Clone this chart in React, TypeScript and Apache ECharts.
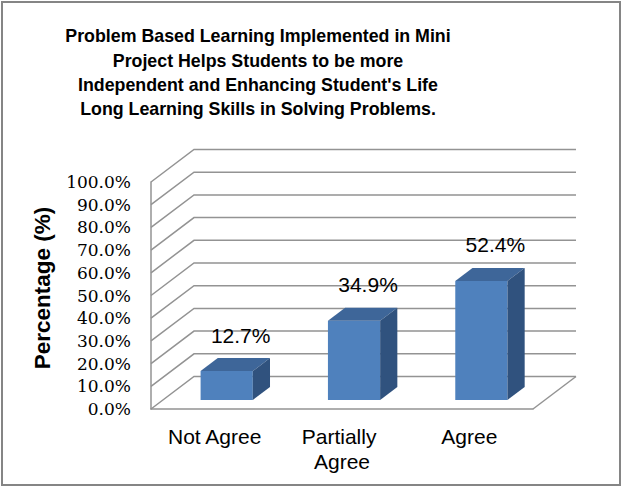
import React, { useEffect, useRef } from "react";
import * as echarts from "echarts";

const titleLines = [
  "Problem Based Learning Implemented in Mini",
  "Project Helps Students to be more",
  "Independent and Enhancing Student's Life",
  "Long Learning Skills in Solving Problems.",
];
const categories = ["Not Agree", "Partially Agree", "Agree"];
const values = [12.7, 34.9, 52.4];
const yTicks = [0, 10, 20, 30, 40, 50, 60, 70, 80, 90, 100];
const yAxisName = "Percentage (%)";

const DX = 43;
const DY = -32.5;
const F0 = 0.28;
const DEPTH = 0.4;
const GRID_COLOR = "#939393";

export default function App() {
  const ref = useRef<HTMLDivElement>(null);
  useEffect(() => {
    if (!ref.current) return;
    const chart = echarts.init(ref.current, null, { renderer: "svg" });
    const option: any = {
      animation: false,
      backgroundColor: "#ffffff",
      title: {
        text: titleLines.join("\n"),
        left: 253,
        top: 19,
        textAlign: "center",
        textStyle: {
          fontFamily: "Liberation Sans",
          fontWeight: "bold",
          fontSize: 17.8,
          lineHeight: 24.4,
          color: "#000",
        },
      },
      grid: { left: 151, right: 89, top: 182, bottom: 78 },
      xAxis: {
        type: "category",
        data: categories,
        axisLine: { show: true, lineStyle: { color: GRID_COLOR, width: 1.5 } },
        axisTick: { show: false },
        splitLine: { show: false },
        axisLabel: {
          interval: 0,
          margin: 15,
          width: 118,
          overflow: "break",
          lineHeight: 25,
          fontFamily: "Liberation Sans",
          fontSize: 21,
          color: "#000",
        },
      },
      yAxis: {
        type: "value",
        min: 0,
        max: 100,
        interval: 10,
        axisLine: { show: true, lineStyle: { color: GRID_COLOR, width: 1.5 } },
        axisTick: { show: false },
        splitLine: { show: false },
        axisLabel: {
          margin: 20,
          formatter: (v: number) => v.toFixed(1) + "%",
          fontFamily: "DejaVu Serif",
          fontSize: 17,
          color: "#000",
        },
      },
      graphic: [
        {
          type: "rect",
          shape: { x: 2, y: 2, width: 618, height: 483 },
          style: { fill: "none", stroke: "#858585", lineWidth: 2 },
          silent: true,
        },
        {
          type: "text",
          x: 42,
          y: 288,
          rotation: Math.PI / 2,
          silent: true,
          style: {
            text: yAxisName,
            align: "center",
            verticalAlign: "middle",
            fontFamily: "Liberation Sans",
            fontWeight: "bold",
            fontSize: 22.5,
            fill: "#000",
          },
        },
      ],
      series: [
        {
          type: "custom",
          clip: false,
          silent: true,
          data: yTicks.map((t) => [0, t]),
          renderItem: (params: any, api: any) => {
            const v = api.value(1);
            const cs = params.coordSys;
            const y = api.coord([0, v])[1];
            const xl = cs.x;
            const xr = cs.x + cs.width;
            const children: any[] = [
              {
                type: "polyline",
                shape: {
                  points: [
                    [xl, y],
                    [xl + DX, y + DY],
                    [xr + DX, y + DY],
                  ],
                },
                style: { stroke: GRID_COLOR, lineWidth: 1.5, fill: "none" },
              },
            ];
            if (v === 0) {
              children.push({
                type: "line",
                shape: { x1: xr, y1: y, x2: xr + DX, y2: y + DY },
                style: { stroke: GRID_COLOR, lineWidth: 1.5 },
              });
            }
            return { type: "group", children };
          },
        },
        {
          type: "custom",
          clip: false,
          data: values.map((v, i) => [i, v]),
          renderItem: (params: any, api: any) => {
            const i = api.value(0);
            const v = api.value(1);
            const top = api.coord([i, v]);
            const base = api.coord([i, 0]);
            const band = api.size([1, 0])[0];
            const w = band * 0.41;
            const ox = F0 * DX;
            const oy = F0 * DY;
            const x0 = top[0] - w / 2 + ox;
            const x1 = x0 + w;
            const yT = top[1] + oy;
            const yB = base[1] + oy;
            const dx = DEPTH * DX;
            const dy = DEPTH * DY;
            return {
              type: "group",
              children: [
                {
                  type: "polygon",
                  shape: { points: [[x0, yT], [x1, yT], [x1, yB], [x0, yB]] },
                  style: { fill: "#4f81bd" },
                },
                {
                  type: "polygon",
                  shape: {
                    points: [[x0, yT], [x1, yT], [x1 + dx, yT + dy], [x0 + dx, yT + dy]],
                  },
                  style: { fill: "#3e6699" },
                },
                {
                  type: "polygon",
                  shape: {
                    points: [[x1, yT], [x1 + dx, yT + dy], [x1 + dx, yB + dy], [x1, yB]],
                  },
                  style: { fill: "#30527e" },
                },
                {
                  type: "text",
                  style: {
                    text: v.toFixed(1) + "%",
                    x: (x0 + x1) / 2 + 14,
                    y: yT - 36,
                    textAlign: "center",
                    textVerticalAlign: "middle",
                    align: "center",
                    verticalAlign: "middle",
                    fontFamily: "Liberation Sans",
                    fontSize: 21,
                    fill: "#000",
                  },
                },
              ],
            };
          },
        },
      ],
    };
    chart.setOption(option);
    return () => chart.dispose();
  }, []);
  return (
    <div
      ref={ref}
      style={{ position: "fixed", left: 0, top: 0, width: 622, height: 487 }}
    />
  );
}
